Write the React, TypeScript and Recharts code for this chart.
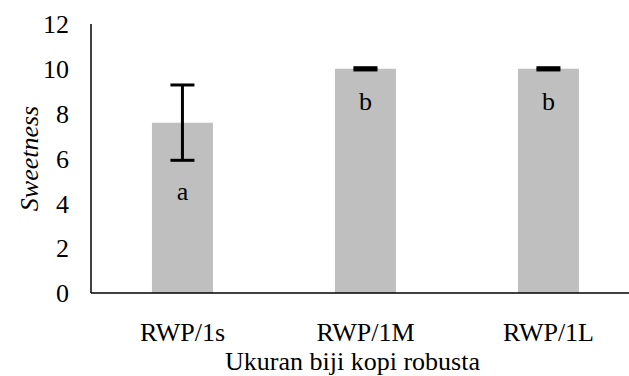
import * as React from "react";
import { Bar, BarChart, XAxis, YAxis, ErrorBar, LabelList, Label } from "recharts";

const categories = ["RWP/1s", "RWP/1M", "RWP/1L"];
const sweetness = [7.6, 10, 10];
const errors = [1.68, 0.05, 0.05];
const letters = ["a", "b", "b"];
const yTicks = [0, 2, 4, 6, 8, 10, 12];

const data = categories.map((name, i) => ({
  name,
  value: sweetness[i],
  err: errors[i],
  letter: letters[i],
}));

const FONT = "Liberation Serif, DejaVu Serif, serif";

const LetterLabel = (props: any) => {
  const { x, y, width, height, index } = props;
  const d = data[index];
  const pxPerUnit = height / d.value;
  const ty = y + d.err * pxPerUnit + 40;
  return (
    <text x={x + width / 2} y={ty} textAnchor="middle" style={{ fontFamily: FONT, fontSize: 26 }} fill="#000">
      {d.letter}
    </text>
  );
};

export default function App() {
  return (
    <div style={{ position: "absolute", left: 0, top: 0, width: 629, height: 376, overflow: "hidden", background: "#fff", fontFamily: FONT }}>
      <BarChart
        width={660}
        height={376}
        data={data}
        margin={{ top: 24, right: 20, left: 0, bottom: 0 }}
        barCategoryGap="33.3%"
        style={{ fontFamily: FONT }}
      >
        <XAxis
          dataKey="name"
          height={83}
          tickLine={false}
          tickSize={0}
          tickMargin={30}
          axisLine={{ stroke: "#000", strokeWidth: 1.5 }}
          tick={{ fontSize: 26, fontFamily: FONT, fill: "#000" }}
        >
          <Label
            value="Ukuran biji kopi robusta"
            position="insideBottom"
            offset={6}
            dx={-13}
            style={{ fontSize: 26, fontFamily: FONT, fill: "#000" }}
          />
        </XAxis>
        <YAxis
          width={91}
          domain={[0, 12]}
          ticks={yTicks}
          interval={0}
          tickLine={false}
          tickSize={0}
          tickMargin={22}
          axisLine={{ stroke: "#000", strokeWidth: 1.5 }}
          tick={{ fontSize: 26, fontFamily: FONT, fill: "#000" }}
        >
          <Label
            value="Sweetness"
            angle={-90}
            position="insideLeft"
            offset={29}
            style={{ fontSize: 26, fontFamily: FONT, fontStyle: "italic", fill: "#000", textAnchor: "middle" }}
          />
        </YAxis>
        <Bar dataKey="value" fill="#bfbfbf" isAnimationActive={false}>
          <ErrorBar dataKey="err" width={12} strokeWidth={3} stroke="#000" />
          <LabelList dataKey="letter" content={LetterLabel} />
        </Bar>
      </BarChart>
    </div>
  );
}
